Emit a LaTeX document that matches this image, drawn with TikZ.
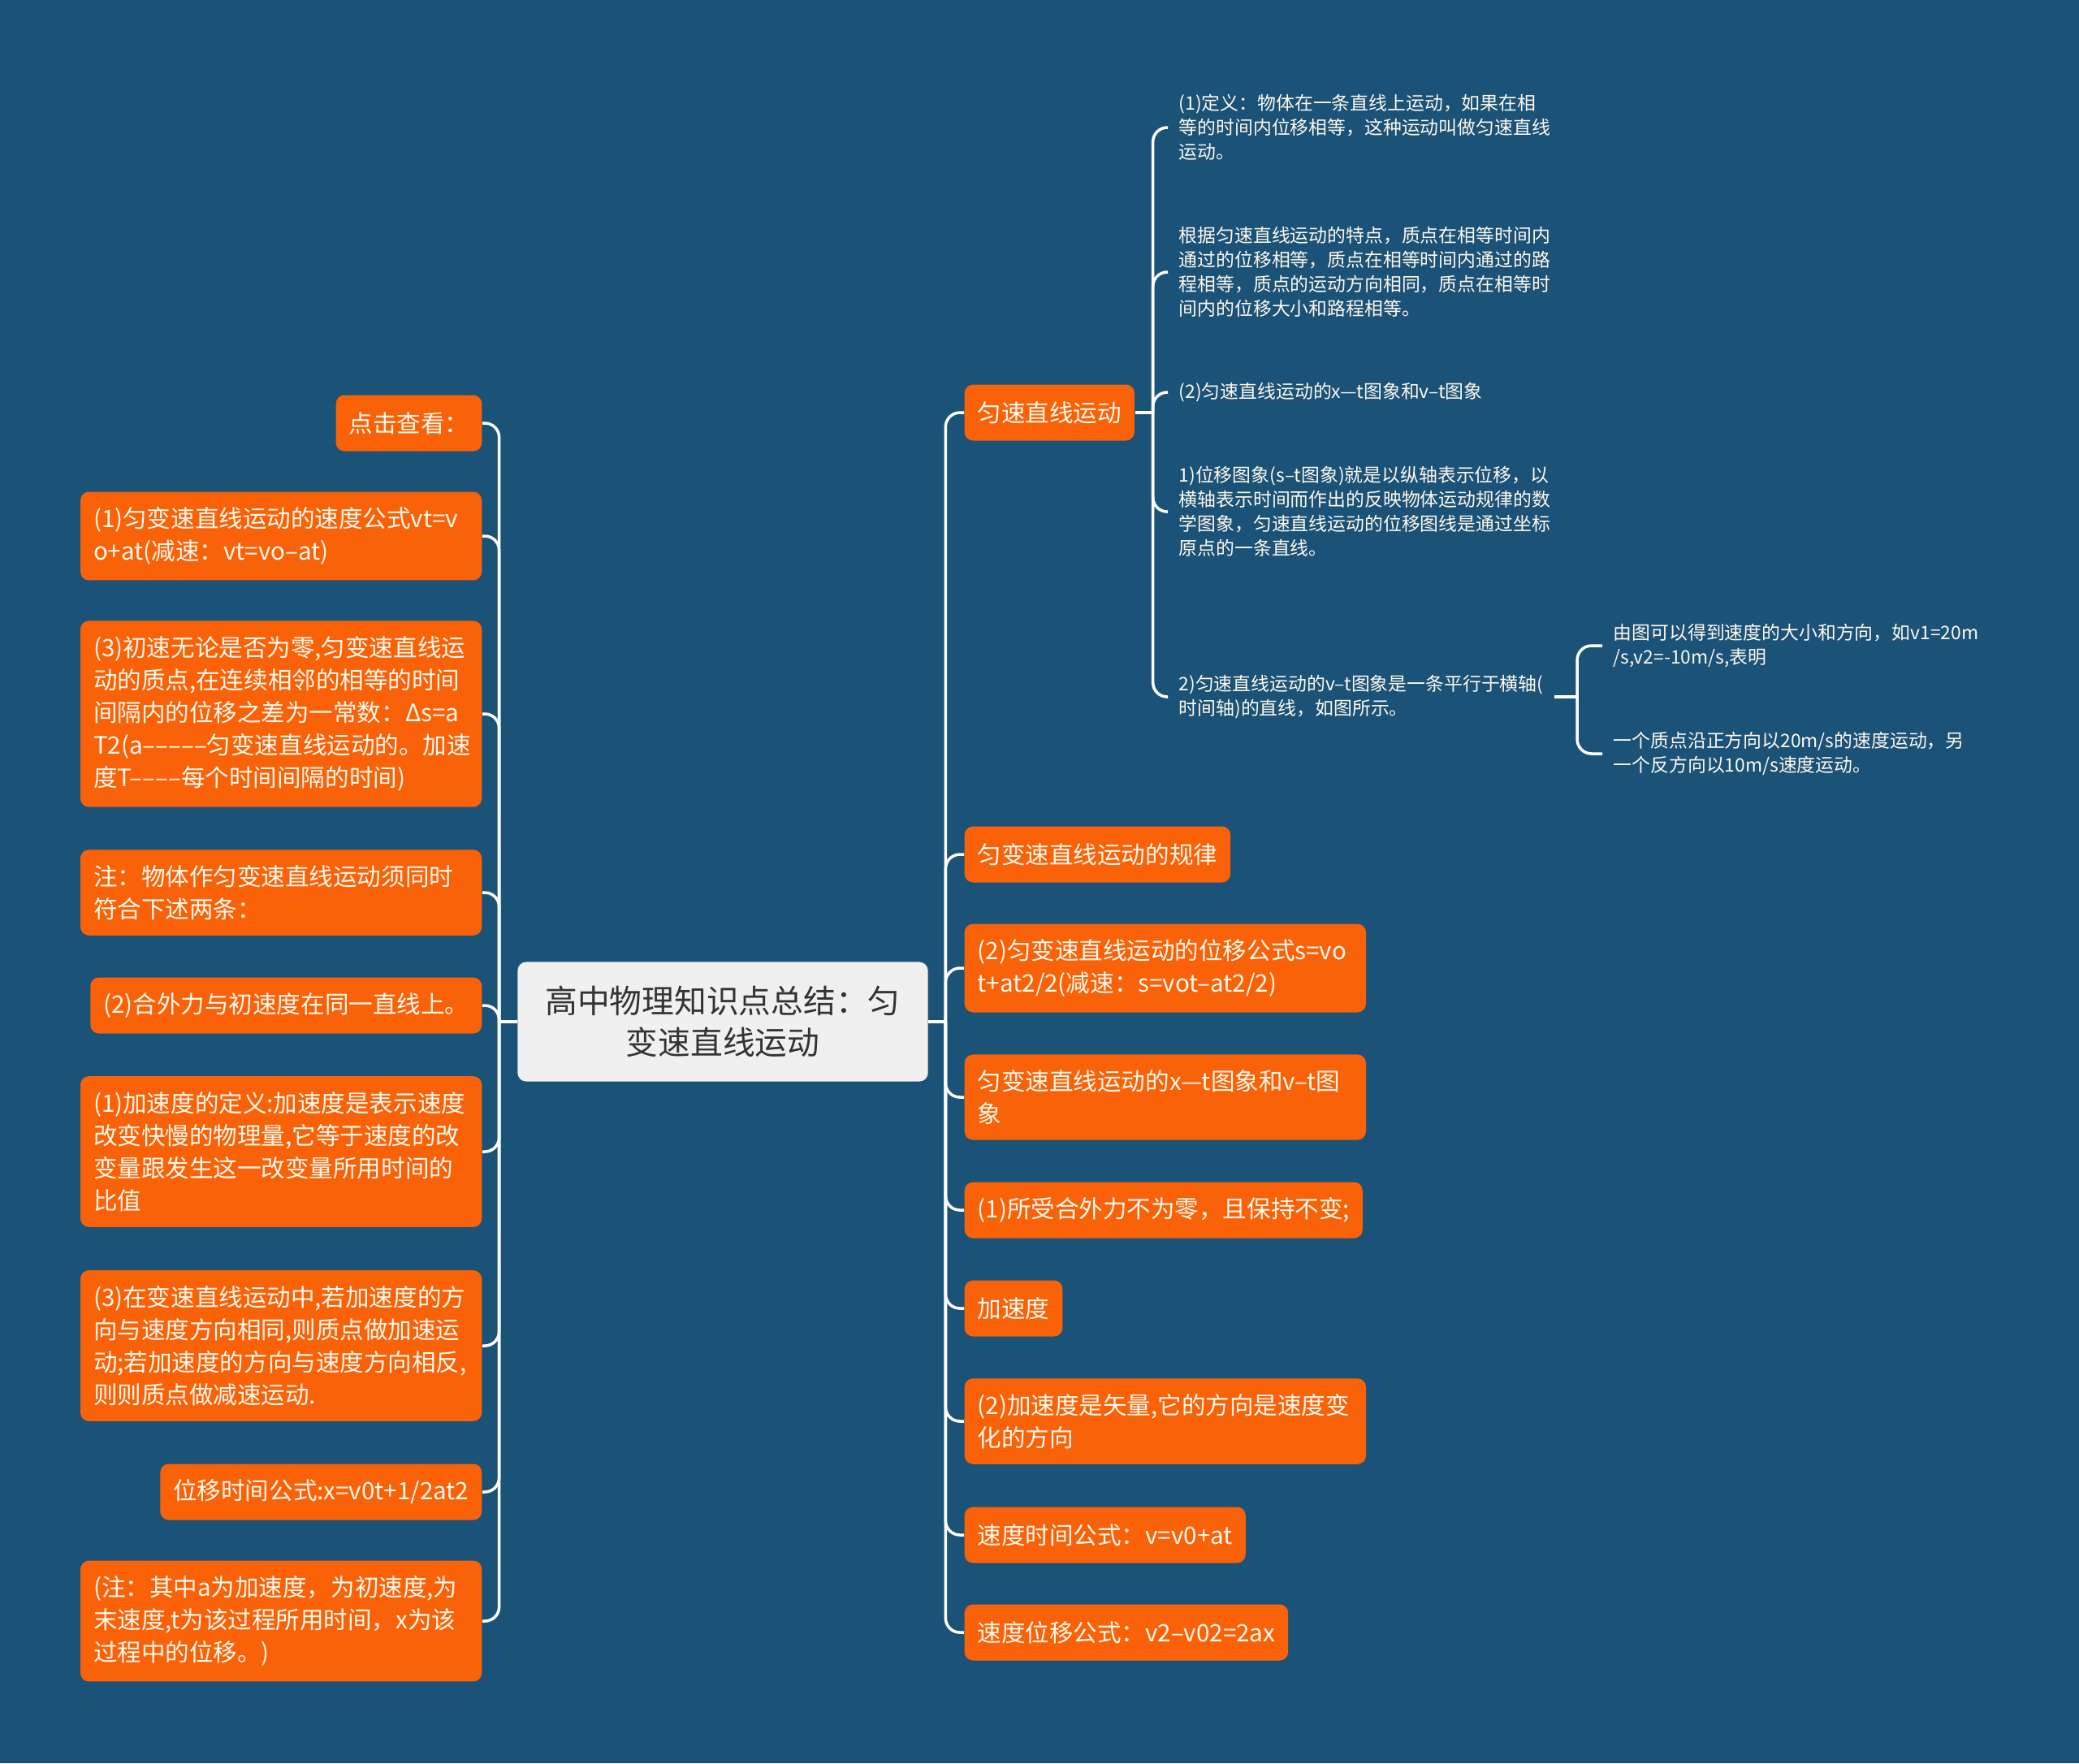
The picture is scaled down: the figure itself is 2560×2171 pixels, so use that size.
\documentclass[tikz,border=0pt]{standalone}
\usepackage{fontspec}
\setmainfont{Noto Sans CJK SC}
\usepackage{xcolor}
\usepackage{tikz}
\usetikzlibrary{positioning, calc}
\definecolor{mybg}{RGB}{27,82,120}
\definecolor{myorange}{RGB}{249,98,8}
\definecolor{mycream}{RGB}{255,249,238}
\definecolor{mydark}{RGB}{51,51,51}
\definecolor{hdrgray}{RGB}{240,240,240}
\tikzset{
  rootbox/.style={rectangle, fill=hdrgray, text=mydark, align=center,
    minimum width=5.05cm, minimum height=1.47cm,
    font=\fontsize{11.3}{14.5}\selectfont, rounded corners=3pt},
  obox/.style={rectangle, fill=myorange, text=mycream,
    inner xsep=0.16cm, inner ysep=5.4pt, minimum height=0.69cm,
    font=\fontsize{8.4}{11.4}\selectfont, rounded corners=3pt},
  wbox/.style={obox, text width=4.62cm, align=left},
  leaf/.style={text=mycream, inner xsep=0.13cm, inner ysep=2pt,
    font=\fontsize{6.5}{8.5}\selectfont, align=left},
  link/.style={draw=white, line width=1pt, rounded corners=5pt}
}

\begin{document}
\begin{tikzpicture}[x=0.01cm, y=-0.01cm]
  \fill[mybg] (0,0) rectangle (2560,2171);
  \useasboundingbox (0,0) rectangle (2560,2171);

  % Root
  \node[rootbox] (root) at (890,1258) {高中物理知识点总结：匀\\变速直线运动};
  \coordinate (lj) at ([xshift=-0.22cm]root.west);
  \coordinate (rj) at ([xshift=0.21cm]root.east);

  % Left branch
  \node[obox, anchor=east] (l1) at (594,521) {点击查看：};
  \node[wbox, anchor=east] (l2) at (594,660) {(1)匀变速直线运动的速度公式vt=v\\o+at(减速：vt=vo–at)};
  \node[wbox, anchor=east] (l3) at (594,879) {(3)初速无论是否为零,匀变速直线运\\动的质点,在连续相邻的相等的时间\\间隔内的位移之差为一常数：Δs=a\\\mbox{T2(a–––––匀变速直线运动的。加速}\\度T––––每个时间间隔的时间)};
  \node[wbox, anchor=east] (l4) at (594,1099) {注：物体作匀变速直线运动须同时\\符合下述两条：};
  \node[obox, anchor=east] (l5) at (594,1238) {(2)合外力与初速度在同一直线上。};
  \node[wbox, anchor=east] (l6) at (594,1418) {(1)加速度的定义:加速度是表示速度\\改变快慢的物理量,它等于速度的改\\变量跟发生这一改变量所用时间的\\比值};
  \node[wbox, anchor=east] (l7) at (594,1657) {(3)在变速直线运动中,若加速度的方\\向与速度方向相同,则质点做加速运\\动;若加速度的方向与速度方向相反,\\则则质点做减速运动.};
  \node[obox, anchor=east] (l8) at (594,1837) {位移时间公式:x=v0t+1/2at2};
  \node[wbox, anchor=east] (l9) at (594,1996) {(注：其中a为加速度，为初速度,为\\末速度,t为该过程所用时间，x为该\\过程中的位移。)};

  % Right branch
  \node[obox, anchor=west] (r1) at (1187,508) {匀速直线运动};
  \node[obox, anchor=west] (r2) at (1187,1052) {匀变速直线运动的规律};
  \node[wbox, anchor=west] (r3) at (1187,1192) {(2)匀变速直线运动的位移公式s=vo\\t+at2/2(减速：s=vot–at2/2)};
  \node[wbox, anchor=west] (r4) at (1187,1351) {匀变速直线运动的x—t图象和v–t图\\象};
  \node[obox, anchor=west] (r5) at (1187,1490) {(1)所受合外力不为零，且保持不变;};
  \node[obox, anchor=west] (r6) at (1187,1611) {加速度};
  \node[wbox, anchor=west] (r7) at (1187,1750) {(2)加速度是矢量,它的方向是速度变\\化的方向};
  \node[obox, anchor=west] (r8) at (1187,1890) {速度时间公式：v=v0+at};
  \node[obox, anchor=west] (r9) at (1187,2010) {速度位移公式：v2–v02=2ax};

  % Leaves of r1
  \node[leaf, anchor=west] (u1) at (1438,157) {(1)定义：物体在一条直线上运动，如果在相\\等的时间内位移相等，这种运动叫做匀速直线\\运动。};
  \node[leaf, anchor=west] (u2) at (1438,335) {根据匀速直线运动的特点，质点在相等时间内\\通过的位移相等，质点在相等时间内通过的路\\程相等，质点的运动方向相同，质点在相等时\\间内的位移大小和路程相等。};
  \node[leaf, anchor=west] (u3) at (1438,483) {(2)匀速直线运动的x—t图象和v–t图象};
  \node[leaf, anchor=west] (u4) at (1438,630) {1)位移图象(s–t图象)就是以纵轴表示位移，以\\横轴表示时间而作出的反映物体运动规律的数\\学图象，匀速直线运动的位移图线是通过坐标\\原点的一条直线。};
  \node[leaf, anchor=west] (u5) at (1438,858) {2)匀速直线运动的v–t图象是一条平行于横轴(\\时间轴)的直线，如图所示。};
  \coordinate (uj) at ([xshift=0.22cm]r1.east);
  \coordinate (vj) at ([xshift=0.28cm]u5.east);

  % Leaves of u5
  \node[leaf, anchor=west] (v1) at (1973,795) {由图可以得到速度的大小和方向，如v1=20m\\/s,v2=-10m/s,表明};
  \node[leaf, anchor=west] (v2) at (1973,928) {一个质点沿正方向以20m/s的速度运动，另\\一个反方向以10m/s速度运动。};

  % Links
  \draw[link] (root.west) -- (lj);
  \draw[link] (root.east) -- (rj);
  \foreach \n in {1,...,9} {
    \draw[link] (lj) |- (l\n.east);
    \draw[link] (rj) |- (r\n.west);
  }
  \draw[link] (r1.east) -- (uj);
  \foreach \n in {1,...,5} \draw[link] (uj) |- (u\n.west);
  \draw[link] (u5.east) -- (vj);
  \foreach \n in {1,2} \draw[link] (vj) |- (v\n.west);
\end{tikzpicture}
\end{document}
